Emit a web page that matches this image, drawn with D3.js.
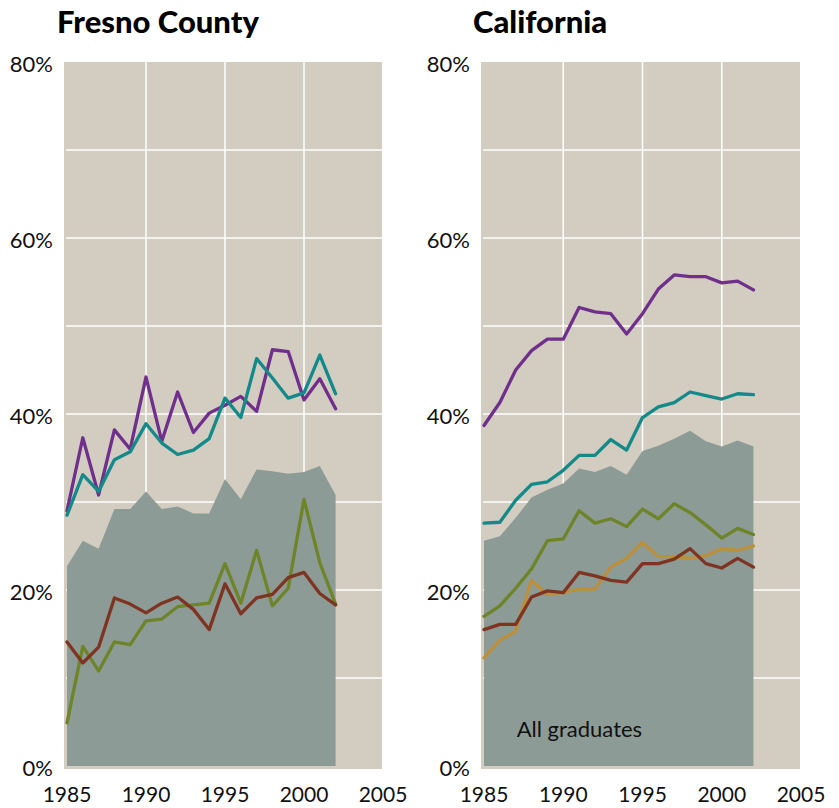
<!DOCTYPE html>
<html lang="en">
<head>
    <meta charset="UTF-8">
    <title>Fresno County / California</title>
    <script src="https://d3js.org/d3.v7.min.js"></script>
    <style>
        body {
            margin: 0;
            background: #fff;
            font-family: "Lato", "Open Sans", sans-serif;
        }
        .title {
            font-size: 31px;
            font-weight: 900;
            fill: #000;
        }
        .tick-label {
            font-size: 22px;
            fill: #111;
        }
        .series {
            fill: none;
            stroke-width: 3.3px;
            stroke-linejoin: round;
            stroke-linecap: round;
        }
    </style>
</head>
<body>
    <div id="chart"></div>
    <script>
        const years = d3.range(1985, 2003);
        const yTicks = [0, 20, 40, 60, 80];
        const xTicks = [1985, 1990, 1995, 2000, 2005];

        // Fresno County
        const fresnoAll = [22.7, 25.6, 24.7, 29.2, 29.2, 31.2, 29.2, 29.5, 28.7, 28.7, 32.6, 30.3, 33.7, 33.5, 33.2, 33.4, 34.1, 30.8];
        const fresnoPurple = [29.0, 37.3, 30.8, 38.2, 36.0, 44.2, 36.9, 42.5, 37.9, 40.1, 41.0, 42.0, 40.3, 47.3, 47.1, 41.6, 44.0, 40.6];
        const fresnoTeal = [28.5, 33.1, 31.2, 34.8, 35.7, 38.9, 36.7, 35.4, 35.9, 37.2, 41.8, 39.6, 46.3, 44.1, 41.8, 42.4, 46.7, 42.3];
        const fresnoGreen = [4.9, 13.6, 10.8, 14.1, 13.8, 16.5, 16.7, 18.1, 18.3, 18.5, 23.0, 18.5, 24.5, 18.2, 20.2, 30.3, 23.1, 18.4];
        const fresnoBrown = [14.1, 11.7, 13.5, 19.1, 18.4, 17.4, 18.5, 19.2, 17.8, 15.5, 20.7, 17.3, 19.1, 19.5, 21.4, 22.0, 19.6, 18.3];

        // California
        const caAll = [25.6, 26.1, 28.2, 30.5, 31.4, 32.1, 33.8, 33.4, 34.1, 33.1, 35.8, 36.4, 37.2, 38.1, 36.9, 36.3, 37.0, 36.3];
        const caPurple = [38.7, 41.3, 45.0, 47.2, 48.5, 48.5, 52.1, 51.6, 51.4, 49.1, 51.4, 54.2, 55.8, 55.6, 55.6, 54.9, 55.1, 54.1];
        const caTeal = [27.6, 27.7, 30.2, 32.0, 32.3, 33.6, 35.3, 35.3, 37.1, 35.9, 39.6, 40.8, 41.3, 42.5, 42.1, 41.7, 42.3, 42.2];
        const caGreen = [17.0, 18.2, 20.2, 22.4, 25.6, 25.8, 29.0, 27.6, 28.1, 27.2, 29.2, 28.1, 29.8, 28.8, 27.4, 25.9, 27.0, 26.3];
        const caGold = [12.3, 14.3, 15.3, 21.1, 19.5, 19.7, 20.1, 20.1, 22.6, 23.6, 25.4, 23.8, 23.8, 23.6, 23.9, 24.7, 24.5, 25.0];
        const caBrown = [15.5, 16.1, 16.1, 19.2, 19.9, 19.7, 22.0, 21.6, 21.1, 20.9, 23.0, 23.0, 23.5, 24.7, 23.0, 22.5, 23.6, 22.6];

        const colors = {
            bg: "#d3ccc1",
            fill: "#8d9b96",
            purple: "#6f2f8b",
            teal: "#138a89",
            green: "#6e8428",
            gold: "#bc8f3a",
            brown: "#7f3321"
        };

        const width = 839;
        const height = 808;

        const svg = d3.select("#chart")
            .append("svg")
            .attr("width", width)
            .attr("height", height);

        const y = d3.scaleLinear().domain([0, 80]).range([766, 62]);

        const panels = [
            {
                title: "Fresno County", titleX: 57, range: [67, 383], labelX: 53,
                all: fresnoAll,
                lines: [
                    { values: fresnoPurple, color: colors.purple },
                    { values: fresnoTeal, color: colors.teal },
                    { values: fresnoGreen, color: colors.green },
                    { values: fresnoBrown, color: colors.brown }
                ]
            },
            {
                title: "California", titleX: 473, range: [484, 801], labelX: 470,
                all: caAll,
                note: "All graduates",
                lines: [
                    { values: caPurple, color: colors.purple },
                    { values: caTeal, color: colors.teal },
                    { values: caGreen, color: colors.green },
                    { values: caGold, color: colors.gold },
                    { values: caBrown, color: colors.brown }
                ]
            }
        ];

        panels.forEach(p => {
            const x = d3.scaleLinear().domain([1985, 2005]).range(p.range);
            const g = svg.append("g");

            // background
            g.append("rect")
                .attr("x", x(1985) - 3)
                .attr("y", y(80))
                .attr("width", x(2005) - x(1985) + 2)
                .attr("height", y(0) - y(80) + 3)
                .attr("fill", colors.bg);

            // horizontal grid
            g.selectAll(".hgrid")
                .data(d3.range(10, 80, 10))
                .enter()
                .append("line")
                .attr("x1", x(1985) - 1)
                .attr("x2", x(2005) - 1)
                .attr("y1", d => y(d))
                .attr("y2", d => y(d))
                .attr("stroke", "#fff")
                .attr("stroke-width", 1.5);

            // vertical grid
            g.selectAll(".vgrid")
                .data([1990, 1995, 2000])
                .enter()
                .append("line")
                .attr("x1", d => x(d))
                .attr("x2", d => x(d))
                .attr("y1", y(80))
                .attr("y2", y(0))
                .attr("stroke", "#fff")
                .attr("stroke-width", 1.5);

            // all graduates area
            const area = d3.area()
                .x((d, i) => x(years[i]))
                .y0(y(0))
                .y1(d => y(d));

            g.append("path")
                .datum(p.all)
                .attr("d", area)
                .attr("fill", colors.fill);

            const line = d3.line()
                .x((d, i) => x(years[i]))
                .y(d => y(d));

            p.lines.forEach(s => {
                g.append("path")
                    .datum(s.values)
                    .attr("class", "series")
                    .attr("d", line)
                    .attr("stroke", s.color);
            });

            if (p.note) {
                g.append("text")
                    .attr("x", x(1987) + 1)
                    .attr("y", 737)
                    .attr("font-size", 22)
                    .attr("fill", "#111")
                    .text(p.note);
            }

            // title
            svg.append("text")
                .attr("class", "title")
                .attr("x", p.titleX)
                .attr("y", 33)
                .text(p.title);

            // y labels
            svg.selectAll(null)
                .data(yTicks)
                .enter()
                .append("text")
                .attr("class", "tick-label")
                .attr("x", p.labelX)
                .attr("y", d => y(d) + 10)
                .attr("text-anchor", "end")
                .text(d => d + "%");

            // x labels
            svg.selectAll(null)
                .data(xTicks)
                .enter()
                .append("text")
                .attr("class", "tick-label")
                .attr("x", d => x(d))
                .attr("y", 802)
                .attr("font-size", 21)
                .style("font-size", "21px")
                .attr("text-anchor", "middle")
                .text(d => d);
        });
    </script>
</body>
</html>
